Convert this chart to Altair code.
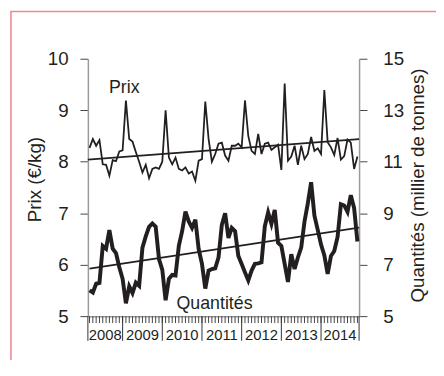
import altair as alt
import pandas as pd

# ---- data ----
mois = list(range(82))  # monthly points, Feb 2008 .. Dec 2014 (index)
prix = [8.27, 8.44, 8.31, 8.42, 7.95, 7.94, 7.73, 8.03, 8.01, 8.20,
        8.22, 9.19, 8.44, 8.39, 8.19, 8.00, 7.79, 7.94, 7.68, 7.86,
        7.89, 7.86, 8.00, 9.00, 8.08, 7.95, 8.08, 7.86, 7.83, 7.89,
        7.77, 7.81, 7.63, 8.02, 8.05, 9.17, 8.44, 8.00, 8.15, 8.35,
        8.37, 8.12, 8.02, 8.31, 8.31, 8.35, 8.28, 9.19, 8.50, 8.21,
        8.15, 8.54, 8.15, 8.35, 8.37, 8.23, 8.28, 8.33, 7.84, 9.52,
        8.02, 8.10, 8.31, 7.94, 8.31, 8.05, 8.15, 8.48, 8.21, 8.26,
        8.15, 9.39, 8.38, 8.28, 8.13, 8.46, 8.04, 8.11, 8.43, 8.37,
        7.86, 8.10]
quantites = [6.00, 5.92, 6.26, 6.29, 7.73, 7.62, 8.34, 7.62, 7.45, 6.90,
             6.45, 5.50, 6.16, 5.90, 6.30, 6.18, 7.66, 8.10, 8.47, 8.60,
             8.48, 7.22, 6.80, 5.62, 6.45, 6.60, 6.58, 7.73, 8.30, 9.06,
             8.68, 8.43, 8.75, 7.60, 7.03, 6.07, 6.77, 6.83, 6.86, 7.28,
             8.55, 9.00, 8.04, 8.43, 8.30, 7.34, 7.03, 6.70, 6.39, 6.77,
             7.03, 7.05, 7.09, 8.49, 9.03, 8.59, 9.13, 7.85, 7.73, 7.03,
             6.33, 7.41, 6.83, 7.28, 7.66, 8.68, 9.38, 10.20, 8.90, 8.35,
             7.78, 7.36, 6.64, 7.34, 7.53, 8.08, 9.35, 9.30, 9.05, 9.70,
             9.20, 7.90]

prix_trend_mois = [-0.5, 81.5]
prix_trend = [8.04, 8.44]
quant_trend_mois = [0, 81.5]
quant_trend = [6.85, 8.44]

annees = ["2008", "2009", "2010", "2011", "2012", "2013", "2014"]
annees_mois = [4.75, 16, 28, 40, 52, 64, 75.75]
limites_annees = [-0.5, 10, 22, 34, 46, 58, 70, 81.5]

prix_ticks = [5, 6, 7, 8, 9, 10]
quant_ticks = [5, 7, 9, 11, 13, 15]

# ---- styling ----
FONT = "Liberation Sans"
INK = "#231f20"
AXIS_GREY = "#9a9a9a"
FRAME = "#ec8a96"

df = pd.DataFrame({"mois": mois, "prix": prix, "quant": quantites})
df_pt = pd.DataFrame({"mois": prix_trend_mois, "prix": prix_trend})
df_qt = pd.DataFrame({"mois": quant_trend_mois, "quant": quant_trend})
df_years = pd.DataFrame({"mois": annees_mois, "annee": annees})
df_bounds = pd.DataFrame({"mois": limites_annees})
one = pd.DataFrame({"a": [0]})

x_scale = alt.Scale(domain=[-0.5, 81.5], nice=False, zero=False)
x_axis = alt.Axis(values=mois, labels=False, ticks=False,
                  domainColor=AXIS_GREY, domainWidth=1.5,
                  grid=False, title=None)
X = alt.X("mois:Q", scale=x_scale, axis=x_axis)

left_axis = alt.Axis(orient="left", values=prix_ticks, title="Prix (€/kg)",
                     titleFont=FONT, titleFontSize=19, titleFontWeight="normal",
                     titleColor=INK, titlePadding=3, titleY=122,
                     labelFont=FONT, labelFontSize=19, labelColor=INK,
                     labelPadding=12, tickSize=8, tickColor="#444444",
                     domainColor=AXIS_GREY, domainWidth=1.5, grid=False)
right_axis = alt.Axis(orient="right", values=quant_ticks,
                      title="Quantités (millier de tonnes)",
                      titleFont=FONT, titleFontSize=19, titleFontWeight="normal",
                      titleColor=INK, titlePadding=5, titleAngle=270,
                      titleBaseline="top", titleY=128,
                      labelFont=FONT, labelFontSize=19, labelColor=INK,
                      labelPadding=16, tickSize=8, tickColor="#444444",
                      domainColor=AXIS_GREY, domainWidth=1.5, grid=False)

y_prix = alt.Scale(domain=[5, 10], nice=False, zero=False)
y_quant = alt.Scale(domain=[5, 15], nice=False, zero=False)

frame = alt.Chart(one).mark_rect(fillOpacity=0, stroke=FRAME, strokeWidth=1.6).encode(
    x=alt.value(-78), x2=alt.value(700), y=alt.value(-48), y2=alt.value(700))

prix_line = alt.Chart(df).mark_line(color=INK, strokeWidth=1.8).encode(
    x=X, y=alt.Y("prix:Q", scale=y_prix, axis=left_axis))
prix_tr = alt.Chart(df_pt).mark_line(color=INK, strokeWidth=1.8).encode(
    x=X, y=alt.Y("prix:Q", scale=y_prix, axis=left_axis))
prix_lab = alt.Chart(one).mark_text(text="Prix", font=FONT, fontSize=18, color=INK,
                                    align="center", baseline="middle").encode(
    x=alt.datum(10.5), y=alt.datum(9.43))

month_ticks = alt.Chart(df).mark_rule(color="#444444", strokeWidth=1).encode(
    x=X, y=alt.value(261), y2=alt.value(268))
bounds = alt.Chart(df_bounds).mark_rule(color="#333333", strokeWidth=1).encode(
    x=X, y=alt.value(261), y2=alt.value(286))
years = alt.Chart(df_years).mark_text(font=FONT, fontSize=15, color=INK,
                                      align="center", baseline="middle").encode(
    x=X, y=alt.value(280), text="annee:N")

quant_line = alt.Chart(df).mark_line(color=INK, strokeWidth=4, strokeJoin="miter").encode(
    x=X, y=alt.Y("quant:Q", scale=y_quant, axis=right_axis))
quant_tr = alt.Chart(df_qt).mark_line(color=INK, strokeWidth=1.8).encode(
    x=X, y=alt.Y("quant:Q", scale=y_quant, axis=right_axis))
quant_lab = alt.Chart(one).mark_text(text="Quantités", font=FONT, fontSize=18, color=INK,
                                     align="center", baseline="middle").encode(
    x=alt.datum(37.8), y=alt.datum(5.46))

layer_prix = alt.layer(frame, prix_line, prix_tr, prix_lab, month_ticks, bounds, years)
layer_quant = alt.layer(quant_line, quant_tr, quant_lab)

chart = alt.layer(layer_prix, layer_quant).resolve_scale(y="independent").properties(
    width=275, height=261,
    autosize=alt.AutoSizeParams(type="none"),
    padding={"left": 81, "top": 49, "right": 78, "bottom": 42},
    background="white",
).configure_view(strokeWidth=0)

chart.save("out.html", embed_options={"renderer": "svg", "actions": False})
